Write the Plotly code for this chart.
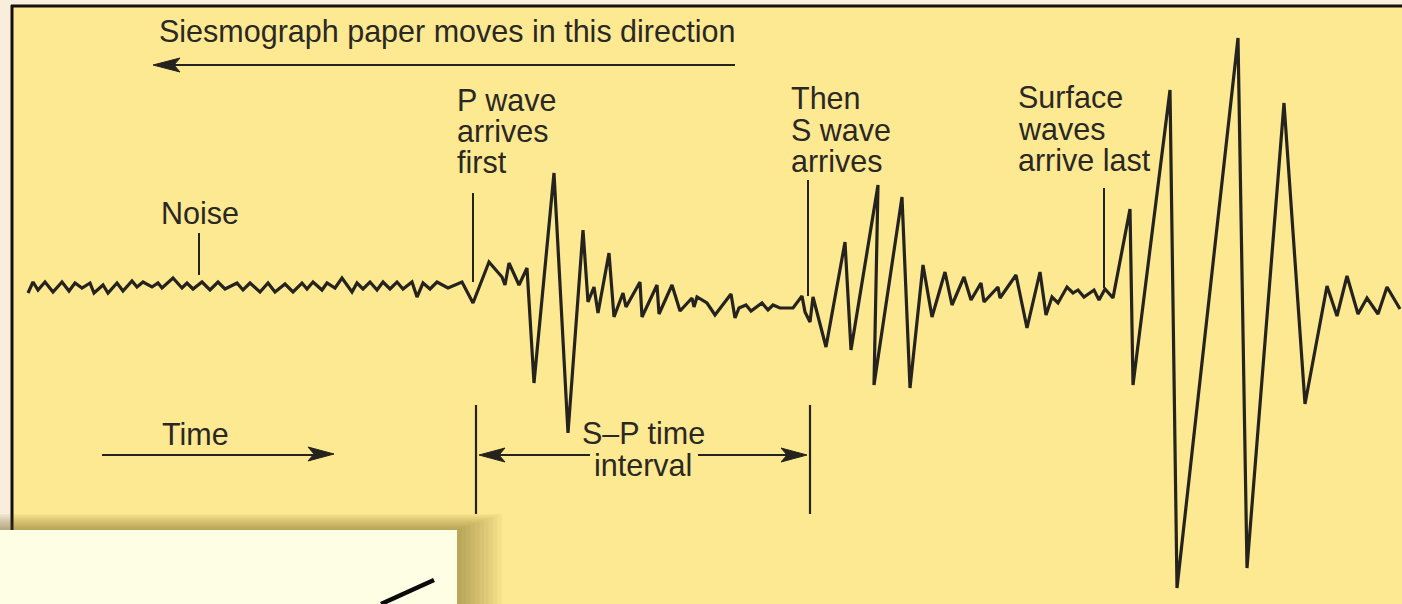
import plotly.graph_objects as go

# ---------------- data ----------------
# time axis (arbitrary units, left -> right) and pen displacement (up = positive)
BASELINE = 290
noise_t = [28, 33, 38, 45, 53, 62, 69, 75, 82, 90, 94, 103, 108, 117, 123, 132, 137, 143, 152, 158,
           162, 173, 182, 187, 193, 202, 210, 218, 225, 237, 243, 250, 260, 268, 275, 285, 293, 302,
           307, 313, 322, 327, 335, 342, 352, 357, 363, 370, 377, 383, 390, 397, 403, 412, 417, 423,
           430, 437, 448, 462]
noise_y = [293, 282, 290, 282, 292, 282, 291, 283, 288, 283, 293, 285, 293, 283, 291, 281, 287, 282, 287, 283,
           288, 278, 288, 283, 289, 282, 290, 282, 289, 283, 290, 283, 292, 283, 292, 284, 292, 283,
           289, 282, 290, 283, 288, 278, 292, 283, 289, 282, 290, 282, 289, 282, 289, 282, 297, 283,
           289, 282, 288, 282]
p_t = [473, 489, 502, 505, 509, 519, 527, 534, 554, 568, 583, 588, 594, 598, 609, 614, 623, 626, 640, 642,
       657, 659, 672, 680, 692, 694, 697, 707, 715, 731, 735, 739, 746, 751, 762, 768, 773, 780, 793,
       802, 805, 810, 813]
p_y = [303, 262, 277, 285, 263, 285, 268, 383, 173, 433, 230, 302, 287, 313, 253, 317, 293, 307, 282, 317,
       285, 314, 285, 311, 298, 307, 297, 303, 315, 294, 318, 308, 305, 311, 303, 310, 305, 308, 308,
       296, 312, 322, 297]
s_t = [826, 845, 851, 878, 874, 902, 910, 923, 932, 945, 952, 964, 971, 981, 984, 998, 1000, 1016, 1027,
       1040, 1046, 1052, 1058, 1067, 1073, 1078, 1084, 1094, 1099, 1105, 1113]
s_y = [347, 242, 350, 185, 385, 197, 388, 265, 317, 272, 305, 277, 300, 283, 302, 287, 298, 275, 328,
       272, 315, 297, 303, 287, 293, 290, 297, 290, 300, 289, 298]
surf_t = [1130, 1133, 1170, 1177, 1238, 1247, 1284, 1305, 1327, 1337, 1347, 1358, 1367, 1378, 1387, 1400]
surf_y = [209, 385, 90, 588, 38, 568, 103, 404, 286, 316, 276, 314, 298, 314, 287, 309]

time = noise_t + p_t + s_t + surf_t
displacement = [BASELINE - v for v in (noise_y + p_y + s_y + surf_y)]

labels_p = ["P wave", "arrives", "first"]
labels_s = ["Then", "S wave", "arrives"]
labels_surf = ["Surface", "waves", "arrive last"]

# ---------------- figure ----------------
W, H = 1402, 604
INK = "#25231d"
YELLOW = "#fde991"
FONT = "Liberation Sans, Arial, sans-serif"


def Y(px):
    return BASELINE - px


fig = go.Figure()
fig.add_trace(go.Scatter(x=time, y=displacement, mode="lines",
                         line=dict(color=INK, width=3.2), hoverinfo="skip", showlegend=False))

shapes = []
# yellow panel and frame
shapes.append(dict(type="rect", x0=11, x1=W, y0=Y(5), y1=Y(H), fillcolor=YELLOW, line_width=0, layer="below"))
shapes.append(dict(type="line", x0=12, x1=12, y0=Y(5), y1=Y(H), line=dict(color="#111", width=3)))
shapes.append(dict(type="line", x0=11, x1=W, y0=Y(6), y1=Y(6), line=dict(color="#111", width=3)))

# pointer lines
for x, y0, y1 in [(199, 233, 275), (473, 193, 282), (808, 180, 296), (1104, 188, 288)]:
    shapes.append(dict(type="line", x0=x, x1=x, y0=Y(y0), y1=Y(y1), line=dict(color=INK, width=2)))
# S-P interval bars
for x in (476, 810):
    shapes.append(dict(type="line", x0=x, x1=x, y0=Y(405), y1=Y(514), line=dict(color=INK, width=2.2)))
# arrow shafts
shapes.append(dict(type="line", x0=172, x1=735, y0=Y(65), y1=Y(65), line=dict(color=INK, width=2.2)))
shapes.append(dict(type="line", x0=102, x1=315, y0=Y(455), y1=Y(455), line=dict(color=INK, width=2.2)))
shapes.append(dict(type="line", x0=495, x1=590, y0=Y(455), y1=Y(455), line=dict(color=INK, width=2.2)))
shapes.append(dict(type="line", x0=698, x1=792, y0=Y(455), y1=Y(455), line=dict(color=INK, width=2.2)))


def head(tx, ty, direction, length=24, half=7, notch=6):
    bx = tx - direction * length
    nx = bx + direction * notch
    return dict(type="path",
                path=f"M {tx},{Y(ty)} L {bx},{Y(ty - half)} L {nx},{Y(ty)} L {bx},{Y(ty + half)} Z",
                fillcolor=INK, line=dict(color=INK, width=1))


shapes.append(head(153, 65, -1, length=27, half=7))
shapes.append(head(334, 454, 1, length=26, half=7))
shapes.append(head(479, 455, -1, length=26, half=7))
shapes.append(head(807, 455, 1, length=26, half=7))

# overlapping white card in the lower-left corner, with a soft shadow
for k in range(10, 0, -1):
    shapes.append(dict(type="rect", x0=0, x1=457 + 4.5 * k, y0=Y(530 - 1.6 * k), y1=Y(H),
                       fillcolor="rgba(95,80,20,0.05)", line_width=0))
shapes.append(dict(type="rect", x0=0, x1=457, y0=Y(530), y1=Y(H), fillcolor="#fefee4", line_width=0))
shapes.append(dict(type="line", x0=381, x1=434, y0=Y(604), y1=Y(580), line=dict(color="#0a0a0a", width=4.5)))

annotations = []


def text(s, x, y, anchor="left", size=30.5):
    annotations.append(dict(text=s, x=x, y=Y(y), xanchor=anchor, yanchor="middle", showarrow=False,
                            font=dict(family=FONT, size=size, color="#2a2823")))


text("Siesmograph paper moves in this direction", 157, 31)
for i, s in enumerate(labels_p):
    text(s, 455, 100 + 31 * i)
for i, s in enumerate(labels_s):
    text(s, 789, 98 + 31.5 * i)
for i, s in enumerate(labels_surf):
    text(s, 1016, 97 + 31.5 * i)
text("Noise", 159, 213)
text("Time", 160, 434)
text("S–P time", 643, 433, anchor="center")
text("interval", 643, 465, anchor="center")

fig.update_layout(
    width=W, height=H, margin=dict(l=0, r=0, t=0, b=0),
    paper_bgcolor="#f8eedb", plot_bgcolor="rgba(0,0,0,0)",
    xaxis=dict(range=[0, W], visible=False, fixedrange=True),
    yaxis=dict(range=[Y(H), Y(0)], visible=False, fixedrange=True),
    shapes=shapes, annotations=annotations, showlegend=False,
)
fig.write_html("out.html", config={"displayModeBar": False},
               post_script="document.body.style.margin='0';document.body.style.overflow='hidden';")
